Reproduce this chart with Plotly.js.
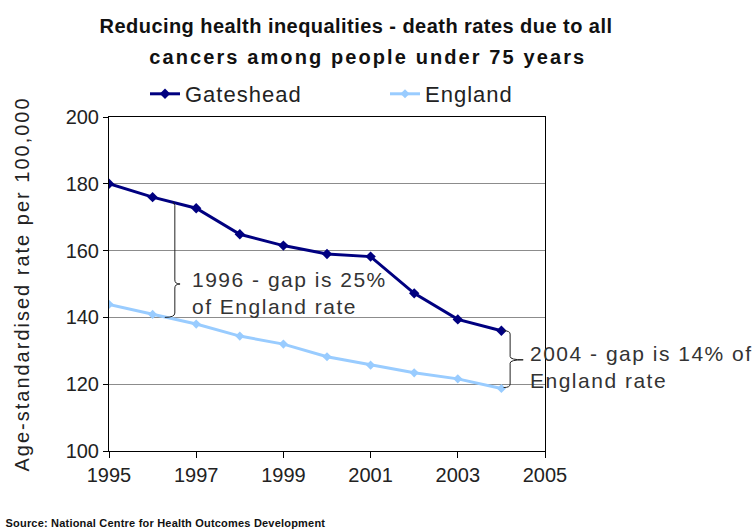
<!DOCTYPE html>
<html><head><meta charset="utf-8">
<script src="https://cdn.plot.ly/plotly-3.0.1.min.js"></script>
<style>body{margin:0;background:#fff}#c{width:755px;height:529px}</style>
</head><body><div id="c"></div>
<script>
const years = [1995,1996,1997,1998,1999,2000,2001,2002,2003,2004];
const gateshead = [180,176,172.7,164.9,161.5,159,158.2,147.2,139.4,136];
const england = [143.9,140.9,138,134.4,132,128.2,125.7,123.4,121.6,118.7];
const xTicks = [1995,1997,1999,2001,2003,2005];
const yTicks = [100,120,140,160,180,200];
const titleLine1 = 'Reducing health inequalities - death rates due to all';
const titleLine2 = 'cancers among people under 75 years';
const note1996 = '1996 - gap is 25%<br>of England rate';
const note2004 = '2004 - gap is 14% of<br>England rate';
const sourceText = 'Source: National Centre for Health Outcomes Development';

const font = "Liberation Sans, Arial, sans-serif";
const traces = [
  {x: years, y: gateshead, name: 'Gateshead', mode: 'lines+markers',
   line: {color: '#000080', width: 3}, marker: {symbol: 'diamond', size: 8, color: '#000080'}},
  {x: years, y: england, name: 'England', mode: 'lines+markers',
   line: {color: '#99ccff', width: 3}, marker: {symbol: 'diamond', size: 7, color: '#99ccff'}}
];

const layout = {
  width: 755, height: 529,
  margin: {l: 109, r: 210, t: 117, b: 78, autoexpand: false},
  paper_bgcolor: '#fff', plot_bgcolor: '#fff',
  font: {family: font, color: '#222'},
  title: {text: titleLine1, font: {family: font, size: 20, color: '#111', weight: 'bold'},
    x: 356/755, xref: 'container', xanchor: 'center', y: 1 - 26/529, yref: 'container', yanchor: 'middle'},
  showlegend: true,
  legend: {orientation: 'h', xref: 'container', yref: 'container', x: 145/755, y: 1 - 94/529, xanchor: 'left', yanchor: 'middle',
    font: {family: font, size: 22, color: '#222'}, traceorder: 'normal', entrywidth: 172, bgcolor: 'rgba(0,0,0,0)'},
  xaxis: {range: [1995, 2005], tickvals: xTicks, ticktext: xTicks.map(String),
    showgrid: false, zeroline: false, showline: true, linecolor: '#000', linewidth: 1, mirror: true,
    ticks: 'outside', ticklen: 6, tickcolor: '#000', tickfont: {family: font, size: 20, color: '#222'}},
  yaxis: {range: [100, 200], tickvals: yTicks, ticktext: yTicks.map(String),
    showgrid: true, gridcolor: '#8c8c8c', gridwidth: 1, zeroline: false, showline: true, linecolor: '#000', linewidth: 1, mirror: true,
    ticks: 'outside', ticklen: 5, tickcolor: '#000', tickfont: {family: font, size: 20, color: '#222'},
    title: {text: 'Age-standardised rate per 100,000', font: {family: font, size: 20, color: '#222'}, standoff: 30}},
  shapes: [
    {type: 'path', xref: 'x', yref: 'y',
     path: 'M 1996.47 174.6 L 1996.51 173.5 L 1996.51 151.2 Q 1996.51 150 1996.63 150 Q 1996.51 150 1996.51 148.8 L 1996.51 141.3 Q 1996.51 140 1996.28 140',
     line: {color: '#222', width: 1}},
    {type: 'path', xref: 'x', yref: 'y',
     path: 'M 2004.05 136 Q 2004.2 136 2004.2 135 L 2004.2 128.3 Q 2004.2 127.3 2004.5 127.3 Q 2004.2 127.3 2004.2 126.3 L 2004.2 120 Q 2004.2 119 2004.05 119',
     line: {color: '#222', width: 1}}
  ],
  annotations: [
    {xref: 'paper', yref: 'paper', x: (368 - 109) / 436, y: (451 - 57) / 334, xanchor: 'center', yanchor: 'middle', showarrow: false,
     text: titleLine2, font: {family: font, size: 20, color: '#111', weight: 'bold'}},
    {xref: 'x', yref: 'y', x: 1996.86, y: 147.4, xanchor: 'left', yanchor: 'middle', align: 'left', showarrow: false,
     text: note1996, font: {family: font, size: 21, color: '#333'}},
    {xref: 'x', yref: 'y', x: 2004.62, y: 125.1, xanchor: 'left', yanchor: 'middle', align: 'left', showarrow: false,
     text: note2004, font: {family: font, size: 21, color: '#333'}},
    {xref: 'paper', yref: 'paper', x: (9 - 109) / 436, y: (451 - 523) / 334, xanchor: 'left', yanchor: 'middle', showarrow: false,
     text: sourceText, font: {family: font, size: 11, color: '#111', weight: 'bold'}}
  ]
};
Plotly.newPlot('c', traces, layout, {displayModeBar: false, staticPlot: true}).then(function (gd) {
  const spacing = [2.1, 1.5, 1.5, 0.2];
  gd.querySelectorAll('.annotation').forEach(function (g, i) {
    const t = g.querySelector('.annotation-text');
    if (t) t.style.letterSpacing = spacing[i] + 'px';
  });
  const gt = gd.querySelector('.gtitle');
  if (gt) gt.style.letterSpacing = '0.45px';
  gd.querySelectorAll('.legendtext').forEach(function (t) { t.style.letterSpacing = '1px'; });
  const yt = gd.querySelector('.ytitle');
  if (yt) yt.style.letterSpacing = '2px';
  // widen the gap between the two legend entries to match the reference layout
  const items = gd.querySelectorAll('.legend .traces');
  if (items.length > 1) {
    const tr = items[1].getAttribute('transform') || '';
    const m = tr.match(/translate\(\s*([-\d.]+)[ ,]+([-\d.]+)\s*\)/);
    if (m) items[1].setAttribute('transform', 'translate(' + (parseFloat(m[1]) + 23) + ',' + m[2] + ')');
  }
});
</script></body></html>
